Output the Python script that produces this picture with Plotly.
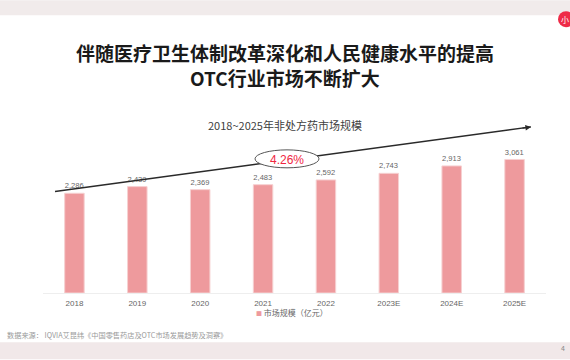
import plotly.graph_objects as go

categories = ["2018", "2019", "2020", "2021", "2022", "2023E", "2024E", "2025E"]
values = [2286, 2439, 2369, 2483, 2592, 2743, 2913, 3061]
value_labels = ["2,286", "2,439", "2,369", "2,483", "2,592", "2,743", "2,913", "3,061"]

FONT = "Noto Sans CJK SC"
L, R, T, B = 43, 546, 100, 293.5
W, H = 570, 360

def px(x):
    return (x - L) / (R - L)

def py(y):
    return (B - y) / (B - T)

fig = go.Figure()
fig.add_trace(go.Bar(
    x=categories, y=values, name="市场规模（亿元）",
    marker=dict(color="#ee9a9d", line=dict(color="#f6d0d1", width=1)),
    width=0.31, text=value_labels, textposition="outside", cliponaxis=False,
    textfont=dict(size=8, color="#666666", family="Liberation Sans"),
    showlegend=False,
))

shapes = [
    dict(type="rect", xref="paper", yref="paper", x0=px(0), x1=px(570), y0=py(0), y1=py(15),
         fillcolor="#f1ebeb", line_width=0, layer="below"),
    dict(type="rect", xref="paper", yref="paper", x0=px(0), x1=px(570), y0=py(343), y1=py(360),
         fillcolor="#f1e8e9", line_width=0, layer="below"),
    dict(type="circle", xref="paper", yref="paper", x0=px(558), x1=px(574), y0=py(11), y1=py(27),
         fillcolor="#ee2b47", line_width=0),
    dict(type="line", xref="paper", yref="paper", x0=px(55), x1=px(531), y0=py(191.7), y1=py(127),
         line=dict(color="#2a2a2a", width=1.4)),
    dict(type="circle", xref="paper", yref="paper", x0=px(255), x1=px(319), y0=py(150), y1=py(168),
         fillcolor="#ffffff", line=dict(color="#555555", width=1)),
]

def note(x, y, text, size, color, family=FONT, xanchor="center", **kw):
    return dict(x=px(x), y=py(y), xref="paper", yref="paper", text=text, showarrow=False,
                xanchor=xanchor, yanchor="middle", font=dict(size=size, color=color, family=family), **kw)

annotations = [
    dict(x=px(531), y=py(127), ax=-10, ay=1.36, xref="paper", yref="paper", axref="pixel", ayref="pixel",
         text="", showarrow=True, arrowhead=2, arrowsize=0.8, arrowwidth=1.4, arrowcolor="#2a2a2a"),
    note(285, 77, "<b>OTC行业市场不断扩大</b>", 19, "#1a1a1a"),
    note(285, 125, "2018~2025年非处方药市场规模", 11, "#404040"),
    note(5, 336, "数据来源： IQVIA艾昆纬《中国零售药店及OTC市场发展趋势及洞察》", 7.2, "#9a9a9a", xanchor="left"),
    note(563, 349, "4", 7, "#888888"),
    note(565, 19, "小", 8, "#ffffff"),
    note(287, 160, "4.26%", 12, "#f0263f", family="Liberation Sans"),
    note(254, 313, '<span style="font-size:6px;color:#ee9a9d">■</span> 市场规模（亿元）', 8, "#666666", xanchor="left"),
]

fig.update_layout(
    width=W, height=H, margin=dict(l=L, r=W - R, t=T, b=H - B, pad=0),
    paper_bgcolor="#ffffff", plot_bgcolor="#ffffff",
    font=dict(family=FONT),
    title=dict(text="<b>伴随医疗卫生体制改革深化和人民健康水平的提高</b>",
               x=285 / W, xanchor="center", xref="container", y=1 - 54 / H, yanchor="middle",
               font=dict(size=19, color="#1a1a1a", family=FONT)),
    showlegend=False,
    xaxis=dict(showgrid=False, showline=True, linecolor="#eeeeee", linewidth=1, ticks="",
               tickfont=dict(size=8, color="#666666", family="Liberation Sans"),
               ticklabelstandoff=2),
    yaxis=dict(range=[0, 4424], visible=False),
    shapes=shapes, annotations=annotations,
)
fig.write_html("out.html", config={"displayModeBar": False},
               post_script="document.body.style.margin='0';document.body.style.overflow='hidden';")
